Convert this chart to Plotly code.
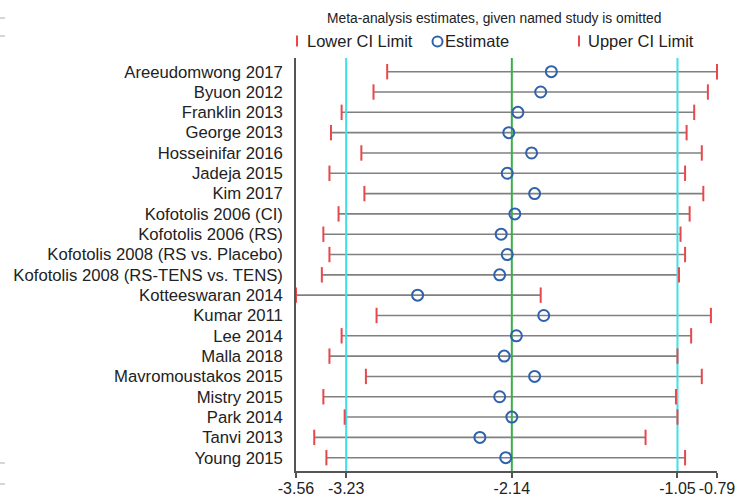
import plotly.graph_objects as go

# Influence analysis: pooled estimate with each named study left out
studies = [
    "Areeudomwong 2017", "Byuon 2012", "Franklin 2013", "George 2013",
    "Hosseinifar 2016", "Jadeja 2015", "Kim 2017", "Kofotolis 2006 (CI)",
    "Kofotolis 2006 (RS)", "Kofotolis 2008 (RS vs. Placebo)",
    "Kofotolis 2008 (RS-TENS vs. TENS)", "Kotteeswaran 2014", "Kumar 2011",
    "Lee 2014", "Malla 2018", "Mavromoustakos 2015", "Mistry 2015",
    "Park 2014", "Tanvi 2013", "Young 2015",
]
estimate = [-1.88, -1.95, -2.10, -2.16, -2.01, -2.17, -1.99, -2.12, -2.21, -2.17,
            -2.22, -2.76, -1.93, -2.11, -2.19, -1.99, -2.22, -2.14, -2.35, -2.18]
lower_ci = [-2.96, -3.05, -3.26, -3.33, -3.13, -3.34, -3.11, -3.28, -3.38, -3.34,
            -3.39, -3.56, -3.03, -3.26, -3.34, -3.10, -3.38, -3.24, -3.44, -3.36]
upper_ci = [-0.79, -0.85, -0.94, -0.99, -0.89, -1.00, -0.88, -0.97, -1.03, -1.00,
            -1.04, -1.95, -0.83, -0.96, -1.05, -0.89, -1.06, -1.05, -1.26, -1.00]

# Combined (all studies) estimate and its confidence limits
overall = -2.14
overall_lo = -3.23
overall_hi = -1.05

x_ticks = [-3.56, -3.23, -2.14, -1.05, -0.79]
x_tick_text = ["-3.56", "-3.23", "-2.14", "-1.05", "-0.79"]

FONT = "Arial, Liberation Sans, sans-serif"
RED = "#e8474c"
BLUE = "#2f62ad"
CYAN = "#3fe0e8"
GREEN = "#3aae48"
GREY = "#808080"

rows = list(range(1, len(studies) + 1))
y_top, y_bot = 0.326, 20.655

# Figure geometry (pixels) for placing the header/legend in paper space
L, R, T, B, W, H = 296, 35, 58, 26, 752, 497
PW, PH = W - L - R, H - T - B


def px(xp):
    return (xp - L) / PW


def py(yp):
    return (H - B - yp) / PH


fig = go.Figure()

# Horizontal confidence-interval bars
seg_x, seg_y = [], []
for lo, hi, r in zip(lower_ci, upper_ci, rows):
    seg_x += [lo, hi, None]
    seg_y += [r, r, None]
fig.add_trace(go.Scatter(x=seg_x, y=seg_y, mode="lines",
                         line=dict(color=GREY, width=1.6),
                         hoverinfo="skip", showlegend=False))

# Reference lines for the combined estimate and CI
for v, c in [(overall_lo, CYAN), (overall_hi, CYAN), (overall, GREEN)]:
    fig.add_trace(go.Scatter(x=[v, v], y=[y_top, y_bot], mode="lines",
                             line=dict(color=c, width=2),
                             hoverinfo="skip", showlegend=False))

# CI caps
for vals, name in [(lower_ci, "Lower CI Limit"), (upper_ci, "Upper CI Limit")]:
    fig.add_trace(go.Scatter(
        x=vals, y=rows, mode="markers", name=name, cliponaxis=False,
        marker=dict(symbol="line-ns", size=11,
                    line=dict(color=RED, width=2)),
        showlegend=False))

# Point estimates
fig.add_trace(go.Scatter(
    x=estimate, y=rows, mode="markers", name="Estimate", cliponaxis=False,
    marker=dict(symbol="circle-open", size=11,
                line=dict(color=BLUE, width=2), color=BLUE),
    showlegend=False))

# Header and legend row
annotations = [
    dict(text="Meta-analysis estimates, given named study is omitted",
         x=px(493.5), y=py(19), xref="paper", yref="paper",
         xanchor="center", yanchor="middle", showarrow=False,
         font=dict(family=FONT, size=13.8, color="#222")),
]
for label, xs in [("Lower CI Limit", 305), ("Estimate", 443), ("Upper CI Limit", 586)]:
    annotations.append(dict(text=label, x=px(xs), y=py(41), xref="paper", yref="paper",
                            xanchor="left", yanchor="middle", showarrow=False,
                            font=dict(family=FONT, size=16.5, color="#222")))

shapes = []
for xb in (297, 579):
    shapes.append(dict(type="line", xref="paper", yref="paper",
                       x0=px(xb), x1=px(xb), y0=py(35.5), y1=py(46.5),
                       line=dict(color=RED, width=2)))
shapes.append(dict(type="circle", xref="paper", yref="paper",
                   xsizemode="pixel", ysizemode="pixel",
                   xanchor=px(437.5), yanchor=py(41.5),
                   x0=-5, x1=5, y0=-5, y1=5,
                   line=dict(color=BLUE, width=2)))
# small marks along the left edge
for yy in (18, 36, 463, 484):
    shapes.append(dict(type="line", xref="paper", yref="paper",
                       x0=px(0), x1=px(5), y0=py(yy), y1=py(yy),
                       line=dict(color="#c8c8c8", width=1.5)))

fig.update_layout(
    width=W, height=H,
    margin=dict(l=L, r=R, t=T, b=B, pad=0),
    paper_bgcolor="white", plot_bgcolor="white",
    template="none",
    annotations=annotations, shapes=shapes,
    showlegend=False,
    font=dict(family=FONT, color="#222"),
)
fig.update_xaxes(
    range=[x_ticks[0], x_ticks[-1]], tickvals=x_ticks, ticktext=x_tick_text,
    showgrid=False, zeroline=False, showline=True, linecolor="#555",
    linewidth=1.5, ticks="outside", ticklen=5, tickwidth=1.5, tickcolor="#555",
    ticklabelstandoff=-3,
    tickfont=dict(family=FONT, size=16, color="#222"), automargin=False,
)
fig.update_yaxes(
    range=[y_bot, y_top], tickvals=rows, ticktext=studies,
    showgrid=False, zeroline=False, showline=True, linecolor="#555",
    linewidth=1.5, ticks="", ticklabelstandoff=8,
    tickfont=dict(family=FONT, size=16.7, color="#222"), automargin=False,
)

fig.write_html("out.html")
